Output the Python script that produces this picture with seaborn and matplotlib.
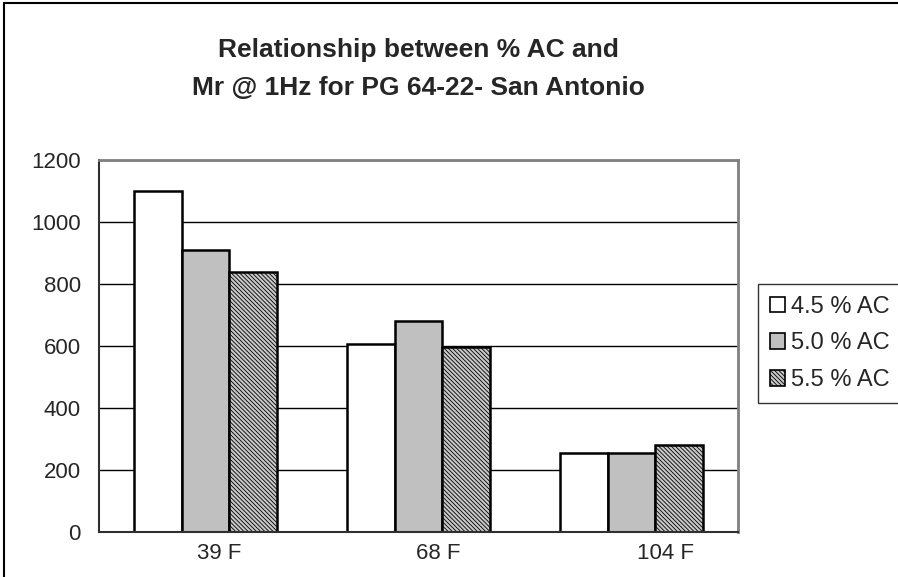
import matplotlib
matplotlib.use("Agg")
import matplotlib.pyplot as plt
import matplotlib.lines as mlines
import matplotlib.patches as mpatches
import matplotlib.transforms as mtransforms
import seaborn as sns
import pandas as pd
import numpy as np

# Data
temperatures = ["39 F", "68 F", "104 F"]
ac_levels = ["4.5 % AC", "5.0 % AC", "5.5 % AC"]
mr_45 = [1100, 605, 255]
mr_50 = [910, 682, 255]
mr_55 = [838, 598, 280]

df = pd.DataFrame({
    "Temperature": temperatures * 3,
    "AC": [ac_levels[0]] * 3 + [ac_levels[1]] * 3 + [ac_levels[2]] * 3,
    "Mr": mr_45 + mr_50 + mr_55,
})

sns.set_theme(style="white")
plt.rcParams["font.family"] = ["Liberation Sans", "DejaVu Sans"]
plt.rcParams["hatch.linewidth"] = 0.6
plt.rcParams["hatch.color"] = "#202020"

fig = plt.figure(figsize=(8.98, 5.77), dpi=100)
ax = fig.add_axes([99 / 898, 1 - 532 / 577, 639 / 898, 372 / 577])

face_colors = ["#ffffff", "#c0c0c0", "#c8c8c8"]
sns.barplot(data=df, x="Temperature", y="Mr", hue="AC", order=temperatures,
            hue_order=ac_levels, palette=face_colors, width=0.672,
            ax=ax, legend=False, saturation=1)

hatches = [None, None, "\\" * 8]
for cont, h in zip(ax.containers, hatches):
    for bar in cont:
        bar.set_edgecolor("black")
        bar.set_linewidth(1.8)
        if h:
            bar.set_hatch(h)

ax.set_ylim(0, 1200)
ax.set_xlim(-0.5, 2.5)
ax.set_yticks(np.arange(0, 1201, 200))
ax.yaxis.grid(True, color="black", linewidth=1.0)
ax.set_axisbelow(True)
ax.set_xlabel("")
ax.set_ylabel("")

ax.set_yticklabels([str(v) for v in range(0, 1201, 200)], fontsize=16)
ax.set_xticks(range(3))
ax.set_xticklabels(temperatures, fontsize=16)
ax.tick_params(axis="x", which="major", length=0, pad=8)
ax.set_xticks([-0.5, 0.5, 1.5, 2.5], minor=True)
ax.tick_params(axis="x", which="minor", length=6, width=1, color="#404040", direction="out")
ax.tick_params(axis="y", which="major", length=5, width=1, color="#404040", direction="out", pad=8)

# category labels sit a little right of the group centres
for lab, dx in zip(ax.get_xticklabels(), [14, 20, 34]):
    lab.set_transform(lab.get_transform() +
                      mtransforms.ScaledTranslation(dx / 100, 0, fig.dpi_scale_trans))

for side in ["left", "bottom"]:
    ax.spines[side].set_color("#303030")
    ax.spines[side].set_linewidth(1.5)
for side in ["top", "right"]:
    ax.spines[side].set_color("#808080")
    ax.spines[side].set_linewidth(2)

ax.text(0.5, 1 + (160 - 50) / 372, "Relationship between % AC and",
        transform=ax.transAxes, ha="center", va="center",
        fontsize=19, fontweight="bold")
ax.text(0.5, 1 + (160 - 88) / 372, "Mr @ 1Hz for PG 64-22- San Antonio",
        transform=ax.transAxes, ha="center", va="center",
        fontsize=19, fontweight="bold")

handles = []
for fc, h in zip(face_colors, hatches):
    handles.append(mpatches.Patch(facecolor=fc, edgecolor="black", hatch=h, linewidth=1.2))
leg = fig.legend(handles, ac_levels, loc="upper left",
                 bbox_to_anchor=(758 / 898, 1 - 284 / 577), fontsize=17,
                 frameon=True, fancybox=False, handlelength=0.65, handleheight=0.65,
                 handletextpad=0.25, labelspacing=0.62, borderpad=0.5,
                 borderaxespad=0)
leg.get_frame().set_edgecolor("black")
leg.get_frame().set_linewidth(1.0)

# Outer chart frame (top and left edges)
fig.add_artist(mlines.Line2D([4 / 898, 1], [1 - 3 / 577, 1 - 3 / 577],
                             transform=fig.transFigure, color="black", linewidth=1.5))
fig.add_artist(mlines.Line2D([4 / 898, 4 / 898], [0, 1 - 3 / 577],
                             transform=fig.transFigure, color="black", linewidth=1.5))

fig.savefig("out.png", dpi=100)
